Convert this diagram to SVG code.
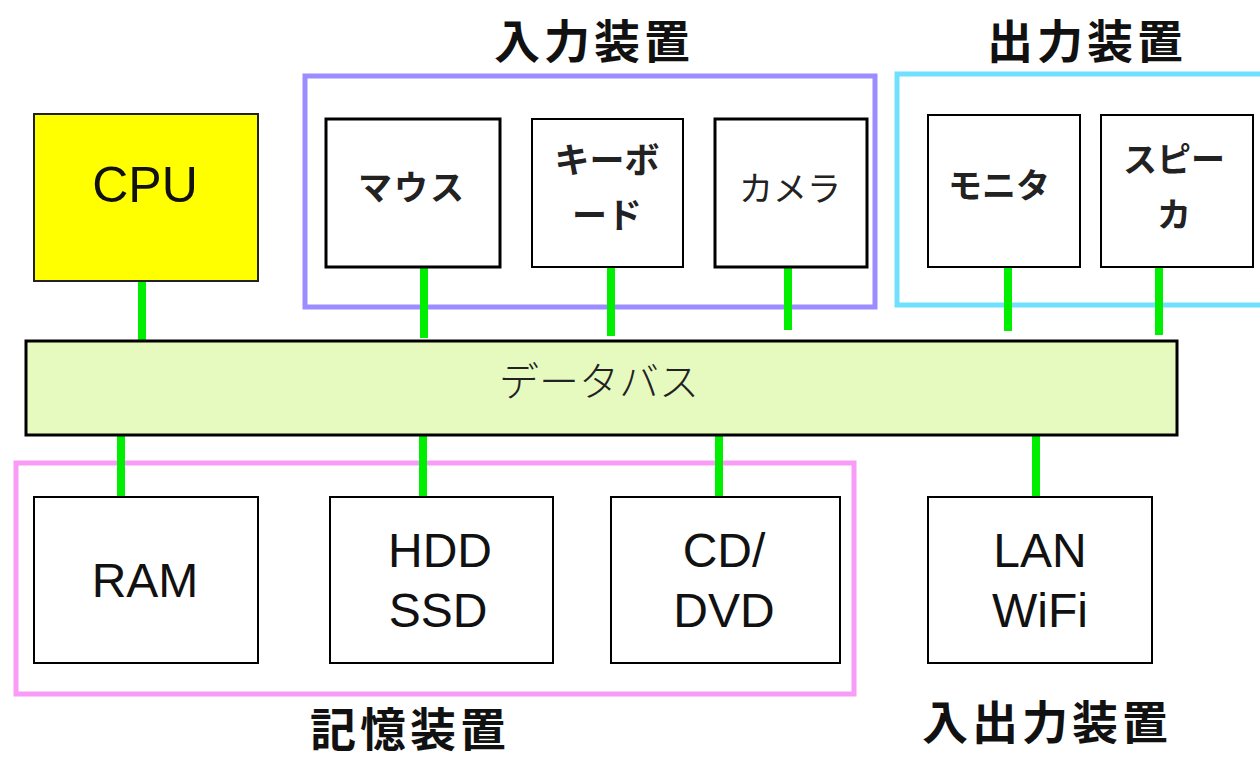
<svg xmlns="http://www.w3.org/2000/svg" width="1260" height="760" viewBox="0 0 1260 760">
<style>
.box{fill:#fff;stroke:#000;stroke-width:2}
.thick{stroke-width:3}
.grp{fill:none;stroke-width:5}
.lat{font-family:"Liberation Sans",Arial,sans-serif;fill:#111;text-anchor:middle;dominant-baseline:central}
.jp{font-family:"Noto Sans CJK JP","Noto Sans",sans-serif;fill:#222;text-anchor:middle;dominant-baseline:central}
.title{font-family:"Noto Sans CJK JP","Noto Sans",sans-serif;font-weight:bold;font-size:46px;letter-spacing:4px;fill:#111;text-anchor:middle;dominant-baseline:central}
.conn line{stroke:#00ee00;stroke-width:8}
</style>
<rect width="1260" height="760" fill="#fff"/>
<g id="group-input"><rect class="grp" x="305" y="76" width="570" height="231" stroke="#9b8cff"/></g>
<g id="group-output"><rect class="grp" x="897" y="74" width="370" height="231" stroke="#70e0ff"/></g>
<g id="group-storage"><rect class="grp" x="16" y="463" width="838" height="231" stroke="#f89cf8"/></g>
<text class="title" x="594" y="38">入力装置</text>
<text class="title" x="1087" y="38">出力装置</text>
<text class="title" x="410" y="726" font-size="44">記憶装置</text>
<text class="title" x="1047" y="719">入出力装置</text>
<g class="conn" id="connectors">
<line x1="142" y1="275" x2="142" y2="345"/>
<line x1="424" y1="267" x2="424" y2="338"/>
<line x1="611" y1="266" x2="611" y2="336"/>
<line x1="788" y1="262" x2="788" y2="330"/>
<line x1="1008" y1="262" x2="1008" y2="331"/>
<line x1="1159" y1="267" x2="1159" y2="335"/>
<line x1="121" y1="432" x2="121" y2="502"/>
<line x1="423" y1="432" x2="423" y2="502"/>
<line x1="719" y1="432" x2="719" y2="502"/>
<line x1="1036" y1="432" x2="1036" y2="502"/>
</g>
<g id="cpu"><rect x="34" y="114" width="224" height="167" fill="#ffff00" stroke="#222" stroke-width="2"/><text class="lat" x="145" y="185" font-size="50">CPU</text></g>
<g id="mouse"><rect class="box thick" x="326" y="119" width="174" height="148"/><text class="jp" x="412" y="185" font-size="34" font-weight="bold" letter-spacing="2">マウス</text></g>
<g id="keyboard"><rect class="box" x="532" y="119" width="151" height="148"/><text class="jp" x="607" y="157" font-size="35" font-weight="bold">キーボ</text><text class="jp" x="607" y="212" font-size="35" font-weight="bold">ード</text></g>
<g id="camera"><rect class="box thick" x="715" y="119" width="152" height="148"/><text class="jp" x="790" y="186" font-size="34">カメラ</text></g>
<g id="monitor"><rect class="box" x="928" y="115" width="152" height="152"/><text class="jp" x="999" y="183" font-size="34" font-weight="bold">モニタ</text></g>
<g id="speaker"><rect class="box" x="1101" y="115" width="152" height="152"/><text class="jp" x="1174" y="157" font-size="34" font-weight="bold">スピー</text><text class="jp" x="1174" y="212" font-size="34" font-weight="bold">カ</text></g>
<g id="databus"><rect x="26" y="341" width="1151" height="94" fill="#e6fac0" stroke="#000" stroke-width="3"/><text class="jp" x="599" y="379" font-size="40" font-weight="300" fill="#333">データバス</text></g>
<g id="ram"><rect class="box" x="34" y="497" width="224" height="166"/><text class="lat" x="145" y="580" font-size="48">RAM</text></g>
<g id="hdd"><rect class="box" x="330" y="497" width="223" height="166"/><text class="lat" x="440" y="550" font-size="48">HDD</text><text class="lat" x="438" y="610" font-size="48">SSD</text></g>
<g id="cddvd"><rect class="box" x="611" y="497" width="229" height="166"/><text class="lat" x="724" y="550" font-size="48">CD/</text><text class="lat" x="724" y="610" font-size="48">DVD</text></g>
<g id="lan"><rect class="box" x="928" y="497" width="224" height="166"/><text class="lat" x="1040" y="550" font-size="48">LAN</text><text class="lat" x="1040" y="610" font-size="48">WiFi</text></g>
</svg>
